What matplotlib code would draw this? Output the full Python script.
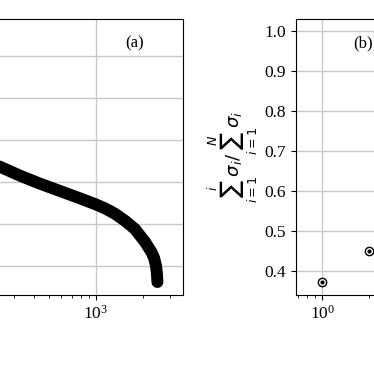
import numpy as np
import matplotlib.pyplot as plt

plt.rcParams['font.family'] = ['Liberation Serif', 'DejaVu Serif']
plt.rcParams['mathtext.fontset'] = 'stix'

# (a) singular values sigma_i vs index i (log10 of value)
idx_a = [1, 2, 5, 10, 30, 100, 242, 326, 438, 588, 789, 985, 1142, 1324, 1534,
         1778, 2061, 2276, 2365, 2430, 2465, 2480]
log_sigma_a = [5.58, 5.0, 4.5, 4.1, 3.5, 2.88, 2.364, 2.150, 1.960, 1.786, 1.612, 1.476,
               1.374, 1.245, 1.079, 0.881, 0.579, 0.326, 0.183, 0.0, -0.2, -0.38]
sigma_a = [10**v for v in log_sigma_a]

# (b) cumulative fraction of singular values
idx_b = [1, 2, 3, 5, 10, 30, 100, 300, 1000, 2449]
frac_b = [0.3725, 0.45, 0.50, 0.56, 0.63, 0.72, 0.82, 0.90, 0.97, 1.0]

b_yticks = [0.4, 0.5, 0.6, 0.7, 0.8, 0.9, 1.0]

fig = plt.figure(figsize=(3.74, 3.74), dpi=100)
ax1 = fig.add_axes([-1.064, 0.2112, 1.553, 0.738])
ax2 = fig.add_axes([0.7914, 0.2112, 1.553, 0.738])

xlim = (10**-0.170, 10**3.558)

# panel (a)
ax1.plot(idx_a, sigma_a, color='k', lw=8.6, solid_capstyle='round', solid_joinstyle='round')
ax1.set_xscale('log')
ax1.set_yscale('log')
ax1.set_xlim(*xlim)
ax1.set_ylim(10**-0.690, 10**5.881)
ax1.grid(True, color='#c8c8c8', lw=1)
ax1.set_axisbelow(True)
ax1.text(0.917, 0.913, '(a)', transform=ax1.transAxes, ha='center', va='center', fontsize=12)

# panel (b)
ax2.plot(idx_b, frac_b, 'o', ms=6, mfc='white', mec='k', mew=1)
ax2.plot(idx_b, frac_b, '.', ms=4, color='k')
ax2.set_xscale('log')
ax2.set_xlim(*xlim)
ax2.set_ylim(0.341, 1.031)
ax2.set_yticks(b_yticks)
ax2.set_yticklabels([f'{v:.1f}' for v in b_yticks])
ax2.grid(True, color='#c8c8c8', lw=1)
ax2.set_axisbelow(True)
ax2.set_ylabel(r'$\sum_{i=1}^{i}\sigma_i/\sum_{i=1}^{N}\sigma_i$', fontsize=13,
               math_fontfamily='dejavusans', labelpad=3)
ax2.text(0.115, 0.913, '(b)', transform=ax2.transAxes, ha='center', va='center', fontsize=12)

for ax in (ax1, ax2):
    ax.tick_params(labelsize=12.5)

fig.savefig('out.png', dpi=100)
